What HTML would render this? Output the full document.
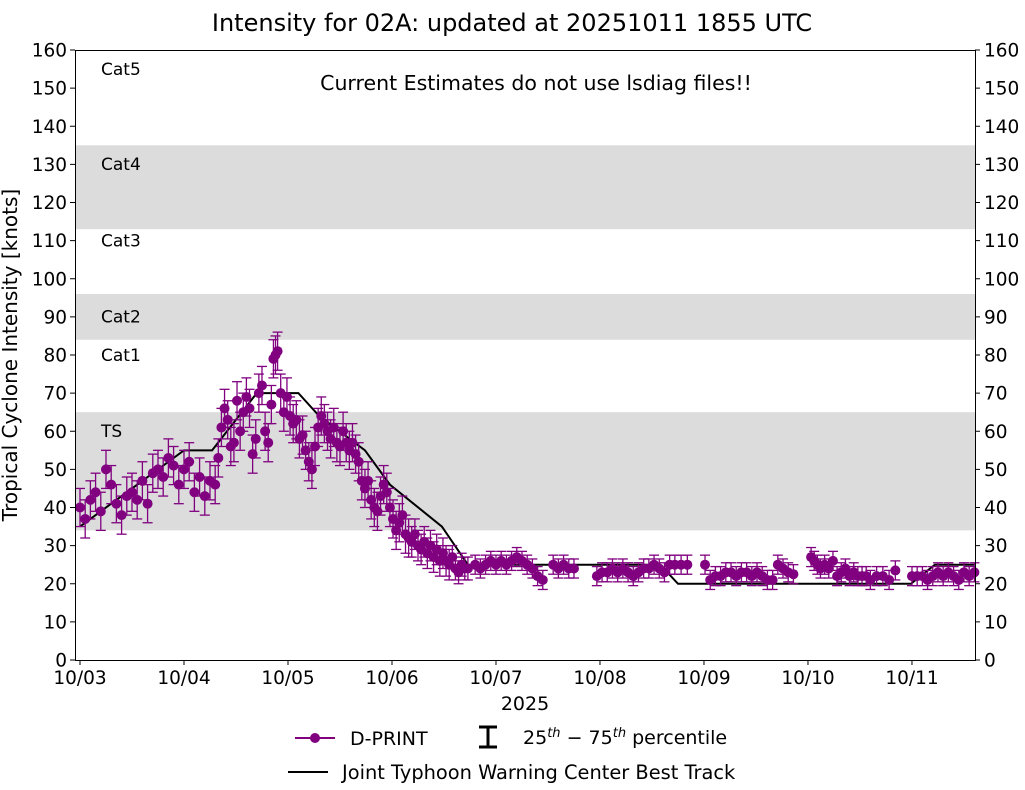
<!DOCTYPE html>
<html><head><meta charset="utf-8"><style>
body{margin:0;background:#fff;}
svg text{font-family:"DejaVu Sans","Liberation Sans",sans-serif;}
</style></head><body>
<svg id="chart" width="1025" height="785" viewBox="0 0 1025 785" xmlns="http://www.w3.org/2000/svg">
<text x="512" y="31" font-size="24" text-anchor="middle">Intensity for 02A: updated at 20251011 1855 UTC</text>
<g id="bands"></g>
<g id="grid"></g>
<g id="track"></g>
<g id="dprint"></g>
<rect x="75.5" y="50.5" width="900" height="610" fill="none" stroke="#000" stroke-width="1"/>
<text x="536" y="90" font-size="20.5" text-anchor="middle">Current Estimates do not use lsdiag files!!</text>
<text x="525" y="710" font-size="19" text-anchor="middle">2025</text>
<text transform="translate(17,355) rotate(-90)" font-size="20" text-anchor="middle">Tropical Cyclone Intensity [knots]</text>
<g>
<line x1="295" y1="738" x2="335" y2="738" stroke="#800080" stroke-width="2"/>
<circle cx="315" cy="738" r="5" fill="#800080"/>
<text x="350" y="745" font-size="19">D-PRINT</text>
<g stroke="#000" stroke-width="3">
<line x1="488" y1="726" x2="488" y2="748"/><line x1="479" y1="727" x2="497" y2="727"/><line x1="479" y1="747" x2="497" y2="747"/></g>
<text x="523" y="744" font-size="19">25<tspan font-size="13" dy="-7" font-style="italic">th</tspan><tspan dy="7"> − 75</tspan><tspan font-size="13" dy="-7" font-style="italic">th</tspan><tspan dy="7"> percentile</tspan></text>
<line x1="288" y1="772" x2="328" y2="772" stroke="#000" stroke-width="2"/>
<text x="342" y="779" font-size="19.4">Joint Typhoon Warning Center Best Track</text>
</g>
</svg>
<script>
const NS="http://www.w3.org/2000/svg";
const yTicks=[0,10,20,30,40,50,60,70,80,90,100,110,120,130,140,150,160];
const xTickLabels=["10/03","10/04","10/05","10/06","10/07","10/08","10/09","10/10","10/11"];
const xTickDays=[0,1,2,3,4,5,6,7,8];
const bandLo=[34,84,113];
const bandHi=[65,96,135];
const catLabels=["Cat5","Cat4","Cat3","Cat2","Cat1","TS"];
const catValues=[154,129,109,89,79,59];
const trackDays=[0,1.0,1.27,1.7,2.1,2.3,2.74,2.98,3.48,3.63,3.73,5.58,5.75,7.99,8.22,8.6];
const trackValues=[35,55,55,70,70,64,55,46,35,29,25,25,20,20,25,25];
const times=[0.00,0.05,0.10,0.15,0.20,0.25,0.30,0.35,0.40,0.45,
0.50,0.55,0.60,0.65,0.70,0.75,0.80,0.85,0.90,0.95,
1.00,1.05,1.10,1.15,1.20,1.25,1.30,1.33,1.36,1.39,
1.42,1.45,1.48,1.51,1.54,1.57,1.60,1.63,1.66,1.69,
1.72,1.75,1.78,1.81,1.84,1.86,1.88,1.90,1.93,1.96,
1.99,2.02,2.05,2.08,2.11,2.14,2.17,2.20,2.23,2.26,
2.29,2.32,2.35,2.38,2.41,2.44,2.47,2.50,2.53,2.56,
2.59,2.62,2.65,2.68,2.71,2.74,2.77,2.80,2.83,2.86,
2.89,2.92,2.95,2.98,3.01,3.04,3.07,3.10,3.13,3.16,
3.19,3.22,3.25,3.28,3.31,3.34,3.37,3.40,3.43,3.46,
3.49,3.52,3.55,3.58,3.61,3.64,3.67,3.70,3.73,3.80,
3.85,3.90,3.95,4.00,4.05,4.10,4.15,4.20,4.25,4.30,
4.35,4.40,4.45,4.55,4.60,4.65,4.70,4.75,4.97,5.02,
5.07,5.12,5.17,5.22,5.27,5.32,5.37,5.42,5.47,5.52,
5.57,5.62,5.67,5.72,5.78,5.84,6.01,6.06,6.11,6.16,
6.21,6.26,6.31,6.36,6.41,6.46,6.51,6.56,6.61,6.66,
6.71,6.76,6.81,6.86,7.03,7.06,7.09,7.12,7.16,7.20,
7.24,7.28,7.32,7.36,7.40,7.44,7.48,7.52,7.56,7.60,
7.66,7.72,7.78,7.84,8.00,8.05,8.10,8.15,8.20,8.25,
8.30,8.35,8.40,8.45,8.50,8.55,8.60];
const values=[40,37,42,44,39,50,46,41,38,43,
44,42,47,41,49,50,48,53,51,46,
50,52,44,48,43,47,46,53,61,66,
63,56,57,68,60,65,69,66,54,58,
70,72,60,57,67,79,80,81,70,65,
69,64,62,63,58,59,55,52,50,56,
61,64,62,60,58,61,57,56,60,57,
55,57,54,52,47,45,47,42,40,39,
43,46,44,40,37,34,36,38,33,32,
31,33,30,29,31,28,30,27,29,26,
28,26,25,27,24,23,25,24,24,25,
24,25,26,25,26,25,26,27,26,25,
24,22,21,25,24,25,24,24,22,23,
23,24,23,24,23,22,23,24,24,25,
24,23,25,25,25,25,25,21,22,22,
23,23,22,23,23,22,23,22,21,21,
25,24,23,22.5,27,26,25,24,25,24,
26,22,23,24,22,23,22,22,22,21,
22,22,21,23.5,22,22,22,21,22,23,
22,23,22,21,23,22,23];
const errs=[5,5,5,5,5,5,5,5,5,5,
5,5,5,5,5,5,5,5,5,5,
5,5,5,5,5,5,5,5,5,5,
5,5,5,5,5,5,5,5,5,5,
5,5,5,5,5,5,5,5,5,5,
5,5,5,5,5,5,5,5,5,5,
5,5,5,5,5,5,5,5,5,5,
5,5,5,5,5,5,5,5,5,5,
5,5,5,5,5,5,5,5,5,5,
4,4,4,4,4,4,4,4,4,4,
4,4,4,3,3,3,3,3,3,2.5,
2.5,2.5,2.5,2.5,2.5,2.5,2.5,2.5,2.5,2.5,
2.5,2.5,2.5,2.5,2.5,2.5,2.5,2.5,2.5,2.5,
2.5,2.5,2.5,2.5,2.5,2.5,2.5,2.5,2.5,2.5,
2.5,2.5,2.5,2.5,2.5,2.5,2.5,2.5,2.5,2.5,
2.5,2.5,2.5,2.5,2.5,2.5,2.5,2.5,2.5,2.5,
2.5,2.5,2.5,2.5,2.5,2.5,2.5,2.5,2.5,2.5,
2.5,2.5,2.5,2.5,2.5,2.5,2.5,2.5,2.5,2.5,
2.5,2.5,2.5,2.5,2.5,2.5,2.5,2.5,2.5,2.5,
2.5,2.5,2.5,2.5,2.5,2.5,2.5];

const X0=75,X1=975,Y0=660,Y1=50;
const dayMin=-0.048,dayMax=8.606;
function xs(d){return X0+(d-dayMin)/(dayMax-dayMin)*(X1-X0);}
function ys(v){return Y0-(v/160)*(Y0-Y1);}
function mk(tag,attrs,parent){const e=document.createElementNS(NS,tag);for(const k in attrs)e.setAttribute(k,attrs[k]);parent.appendChild(e);return e;}

const bands=document.getElementById('bands');
for(let i=0;i<bandLo.length;i++){
 const r=mk('rect',{x:X0,y:ys(bandHi[i]),width:X1-X0,height:ys(bandLo[i])-ys(bandHi[i]),fill:'#dcdcdc'},bands);
 
 
}
for(let i=0;i<catLabels.length;i++){
 const t=mk('text',{x:101,y:ys(catValues[i])+2,'font-size':17},bands);
 t.textContent=catLabels[i];
 
 
}
const grid=document.getElementById('grid');
yTicks.forEach(v=>{
 const y=ys(v);
 mk('line',{x1:X0-5,y1:y,x2:X0,y2:y,stroke:'#000'},grid);
 mk('line',{x1:X1,y1:y,x2:X1+5,y2:y,stroke:'#000'},grid);
 const l=mk('text',{x:X0-8,y:y+6.5,'font-size':18.5,'text-anchor':'end'},grid);
 l.textContent=v;
 
 
 const r=mk('text',{x:X1+9,y:y+6.5,'font-size':18.5},grid);
 r.textContent=v;
 
 
});
xTickDays.forEach((d,i)=>{
 const x=xs(d);
 mk('line',{x1:x,y1:Y0,x2:x,y2:Y0+5,stroke:'#000'},grid);
 const t=mk('text',{x:x,y:Y0+24,'font-size':18.5,'text-anchor':'middle'},grid);
 t.textContent=xTickLabels[i];
 
 
});
const track=document.getElementById('track');
const tp=mk('polyline',{points:trackDays.map((d,i)=>xs(d)+','+ys(trackValues[i])).join(' '),fill:'none',stroke:'#000','stroke-width':2},track);


const dp=document.getElementById('dprint');
for(let i=0;i<times.length;i++){
 const x=xs(times[i]),yt=ys(values[i]+errs[i]),yb=ys(values[i]-errs[i]);
 const g=mk('g',{stroke:'#800080','stroke-width':1.3},dp);
 
 
 mk('line',{x1:x,y1:yt,x2:x,y2:yb},g);
 mk('line',{x1:x-5,y1:yt,x2:x+5,y2:yt},g);
 mk('line',{x1:x-5,y1:yb,x2:x+5,y2:yb},g);
}
for(let i=0;i<times.length;i++){
 const c=mk('circle',{cx:xs(times[i]),cy:ys(values[i]),r:5,fill:'#800080'},dp);
 
 
}
</script>
</body></html>
